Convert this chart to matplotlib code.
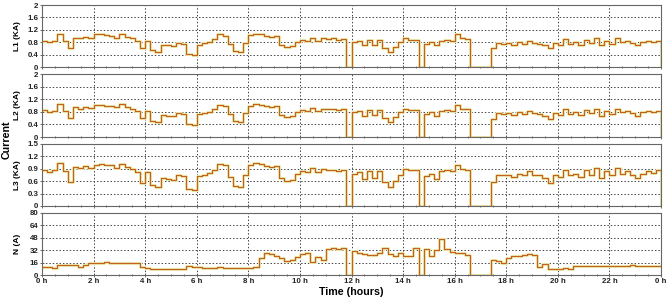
import numpy as np
import matplotlib.pyplot as plt

plt.rcParams['font.family'] = ['Liberation Sans', 'DejaVu Sans']

# sample times in hours, every 0.2 h over one day
hours = np.round(np.arange(121) * 0.2, 1)

# phase currents (kA)
l1 = [0.85, 0.80, 0.85, 1.05, 0.85, 0.62, 0.95, 0.92, 0.97, 0.93,
      1.05, 1.05, 1.02, 1.00, 0.95, 1.07, 0.98, 0.92, 0.85, 0.62,
      0.85, 0.55, 0.50, 0.72, 0.70, 0.68, 0.78, 0.75, 0.42, 0.40,
      0.72, 0.78, 0.82, 0.90, 1.05, 1.00, 0.75, 0.52, 0.50, 0.78,
      1.02, 1.07, 1.05, 1.00, 0.98, 1.00, 0.72, 0.65, 0.68, 0.82,
      0.88, 0.85, 0.95, 0.85, 0.93, 0.90, 0.92, 0.88, 0.90, 0.00,
      0.80, 0.85, 0.70, 0.88, 0.72, 0.88, 0.62, 0.50, 0.65, 0.80,
      0.92, 0.88, 0.88, 0.00, 0.75, 0.82, 0.70, 0.85, 0.88, 0.85,
      1.05, 0.92, 0.90, 0.00, 0.00, 0.00, 0.00, 0.60, 0.78, 0.75,
      0.78, 0.72, 0.80, 0.75, 0.85, 0.78, 0.75, 0.70, 0.60, 0.78,
      0.72, 0.90, 0.75, 0.80, 0.72, 0.88, 0.78, 0.92, 0.70, 0.85,
      0.75, 0.92, 0.80, 0.85, 0.78, 0.70, 0.80, 0.85, 0.80, 0.85,
      0.00]
l2 = [0.86, 0.80, 0.84, 1.04, 0.84, 0.60, 0.94, 0.90, 0.95, 0.92,
      1.02, 1.03, 1.00, 0.98, 0.94, 1.04, 0.96, 0.90, 0.84, 0.60,
      0.83, 0.52, 0.48, 0.70, 0.68, 0.66, 0.76, 0.74, 0.40, 0.38,
      0.72, 0.76, 0.80, 0.88, 1.02, 0.98, 0.72, 0.50, 0.48, 0.76,
      1.00, 1.05, 1.03, 0.98, 0.96, 0.98, 0.70, 0.62, 0.66, 0.80,
      0.86, 0.83, 0.93, 0.84, 0.90, 0.88, 0.90, 0.86, 0.88, 0.00,
      0.78, 0.84, 0.68, 0.86, 0.70, 0.86, 0.60, 0.48, 0.62, 0.78,
      0.90, 0.86, 0.86, 0.00, 0.74, 0.80, 0.68, 0.84, 0.86, 0.83,
      1.03, 0.90, 0.88, 0.00, 0.00, 0.00, 0.00, 0.58, 0.76, 0.74,
      0.76, 0.70, 0.78, 0.74, 0.83, 0.76, 0.74, 0.68, 0.58, 0.76,
      0.70, 0.88, 0.74, 0.78, 0.70, 0.86, 0.76, 0.90, 0.68, 0.83,
      0.74, 0.90, 0.78, 0.84, 0.76, 0.68, 0.78, 0.83, 0.78, 0.84,
      0.00]
l3 = [0.86, 0.82, 0.86, 1.05, 0.85, 0.58, 0.95, 0.92, 0.96, 0.93,
      1.00, 1.02, 1.00, 0.98, 0.93, 1.02, 0.95, 0.90, 0.83, 0.55,
      0.82, 0.50, 0.46, 0.68, 0.66, 0.64, 0.74, 0.72, 0.40, 0.38,
      0.72, 0.76, 0.80, 0.88, 1.02, 0.98, 0.70, 0.48, 0.47, 0.74,
      0.98, 1.03, 1.02, 0.97, 0.95, 0.96, 0.68, 0.60, 0.64, 0.78,
      0.85, 0.82, 0.92, 0.82, 0.90, 0.86, 0.88, 0.85, 0.87, 0.00,
      0.78, 0.83, 0.66, 0.85, 0.68, 0.85, 0.58, 0.46, 0.60, 0.76,
      0.90, 0.86, 0.86, 0.00, 0.72, 0.78, 0.66, 0.84, 0.86, 0.84,
      1.00, 0.90, 0.88, 0.00, 0.00, 0.00, 0.00, 0.58, 0.76, 0.74,
      0.76, 0.70, 0.78, 0.74, 0.84, 0.76, 0.74, 0.68, 0.56, 0.76,
      0.70, 0.88, 0.74, 0.78, 0.70, 0.88, 0.76, 0.92, 0.68, 0.84,
      0.74, 0.92, 0.78, 0.84, 0.76, 0.68, 0.78, 0.84, 0.80, 0.86,
      0.00]
# neutral current (A)
neutral = [10, 10, 9.5, 13, 13, 13, 13, 10, 13, 16,
           16, 15, 17, 16, 16, 15, 16, 15, 15, 10,
           9, 8, 8, 7.5, 8, 8, 7.5, 8, 11, 10,
           10, 9, 9, 8.5, 10, 9, 9, 9.5, 9.5, 9.5,
           9.5, 10, 22, 28, 27, 24, 22, 18, 20, 23,
           27, 29, 17, 23, 20, 33, 35, 34, 35, 0,
           31, 28, 27, 26, 26, 28, 35, 27, 25, 29,
           25, 24, 35, 0, 33, 25, 32, 46, 34, 30,
           28, 29, 26, 0, 0, 0, 0, 20, 18, 16,
           22, 24, 25, 26, 27, 26, 10, 14, 8, 8,
           8, 8.5, 8, 11, 11, 11, 11, 11, 11, 11,
           11, 11, 11, 11, 12.5, 11, 11, 11, 11, 11,
           11]

series = [l1, l2, l3, neutral]
ylabels = ['L1 (KA)', 'L2 (KA)', 'L3 (KA)', 'N (A)']
yticks = [[0, 0.4, 0.8, 1.2, 1.6, 2],
          [0, 0.4, 0.8, 1.2, 1.6, 2],
          [0, 0.3, 0.6, 0.9, 1.2, 1.5],
          [0, 16, 32, 48, 64, 80]]
ytlabels = [['0', '0.4', '0.8', '1.2', '1.6', '2'],
            ['0', '0.4', '0.8', '1.2', '1.6', '2'],
            ['0', '0.3', '0.6', '0.9', '1.2', '1.5'],
            ['0', '16', '32', '48', '64', '80']]
xtick_pos = list(range(0, 25, 2))
xtick_labels = [f'{h % 24} h' for h in xtick_pos]

W, H = 669, 298
fig = plt.figure(figsize=(W / 100, H / 100), dpi=100)

# panel top/bottom edges in pixels
edges = [(5, 67), (74, 137), (144, 206), (213, 275)]
left, right = 42, 661

for i, (top, bot) in enumerate(edges):
    ax = fig.add_axes([left / W, 1 - bot / H, (right - left) / W, (bot - top) / H])
    y = series[i]
    ax.plot(hours, y, drawstyle='steps-post', color='#eef2b8', lw=2.2, zorder=2)
    ax.plot(hours, y, drawstyle='steps-post', color='#c2621e', lw=0.9, zorder=3)
    ax.set_xlim(0, 24)
    ax.set_ylim(yticks[i][0], yticks[i][-1])
    ax.set_yticks(yticks[i])
    ax.set_yticklabels(ytlabels[i])
    ax.set_xticks(xtick_pos)
    ax.set_xticks(np.arange(0, 24.01, 0.5), minor=True)
    ax.grid(True, which='major', color='#444444', ls=(0, (1.5, 2)), lw=0.7)
    ax.tick_params(axis='both', which='both', direction='inout', length=3,
                   width=0.6, color='#555555', labelsize=5.7, pad=1,
                   labelcolor='#222222')
    ax.tick_params(axis='x', which='minor', length=2)
    if i < 3:
        ax.set_xticklabels([])
    else:
        ax.set_xticklabels(xtick_labels, fontweight='bold')
        ax.set_xlabel('Time (hours)', fontsize=7.7, fontweight='bold', labelpad=1)
    for lbl in ax.get_yticklabels():
        lbl.set_fontweight('bold')
    ax.set_ylabel(ylabels[i], fontsize=6, fontweight='bold')
    ax.yaxis.set_label_coords((21 - left) / (right - left), 0.5)
    for s in ax.spines.values():
        s.set_color('#666666')
        s.set_linewidth(0.8)

fig.text(7 / W, 1 - 140 / H, 'Current', rotation=90, ha='center', va='center',
         fontsize=7.7, fontweight='bold')

fig.savefig('out.png', dpi=100)
